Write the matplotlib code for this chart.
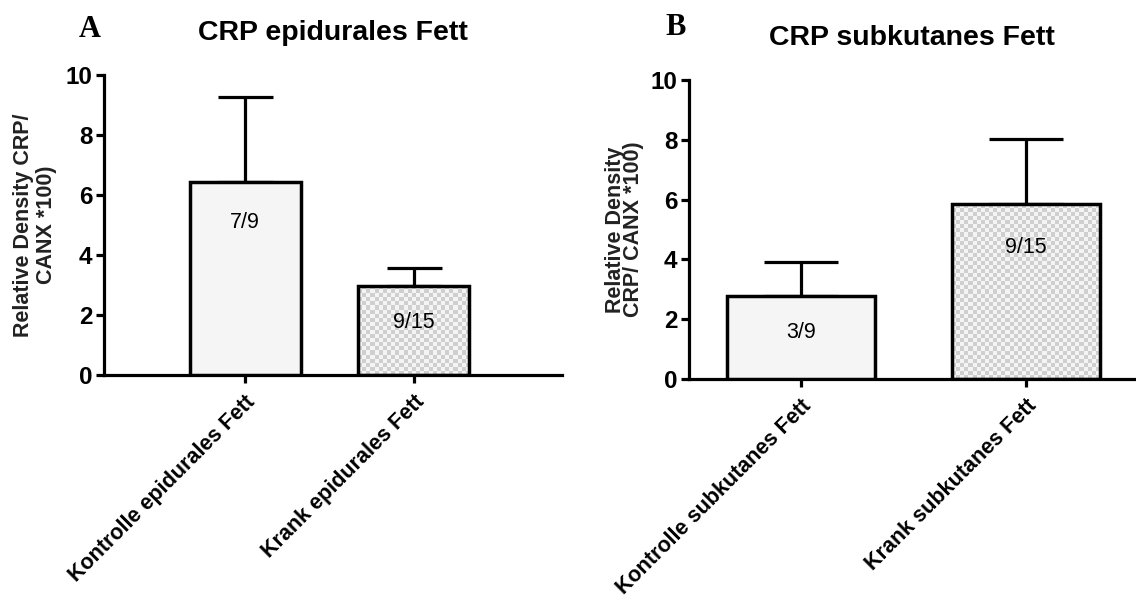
import numpy as np
import matplotlib
matplotlib.use("Agg")
import matplotlib.pyplot as plt
from matplotlib.colors import ListedColormap

plt.rcParams['font.family'] = ['Liberation Sans', 'DejaVu Sans']

# Panel A: epidural fat
cats_a = ["Kontrolle epidurales Fett", "Krank epidurales Fett"]
means_a = [6.45, 2.97]
sem_a = [2.83, 0.6]
counts_a = ["7/9", "9/15"]
count_pos_a = [5.1, 1.75]

# Panel B: subcutaneous fat
cats_b = ["Kontrolle subkutanes Fett", "Krank subkutanes Fett"]
means_b = [2.78, 5.85]
sem_b = [1.13, 2.17]
counts_b = ["3/9", "9/15"]
count_pos_b = [1.55, 4.4]

yticks = [0, 2, 4, 6, 8, 10]


def checker(ax, bar, cell_px=4):
    # checkered fill clipped to the bar outline
    x0, y0 = bar.get_x(), bar.get_y()
    w, h = bar.get_width(), bar.get_height()
    p0 = ax.transData.transform((x0, y0))
    p1 = ax.transData.transform((x0 + w, y0 + h))
    nx = max(1, int(abs(p1[0] - p0[0]) / cell_px))
    ny = max(1, int(abs(p1[1] - p0[1]) / cell_px))
    grid = (np.add.outer(np.arange(ny), np.arange(nx)) % 2).astype(float)
    im = ax.imshow(grid, cmap=ListedColormap(["#f4f4f4", "#cfcfcf"]),
                   extent=(x0, x0 + w, y0, y0 + h), aspect='auto',
                   interpolation='nearest', zorder=2)
    im.set_clip_path(bar)


def panel(ax, cats, means, sem, counts, count_pos, xlim, ylabel, ylinesp,
          ypad, title, letter, letter_y, capsize):
    x = np.arange(len(cats))
    ax.set_xlim(*xlim)
    ax.set_ylim(0, 10)
    ax.errorbar(x, means, yerr=[np.zeros(len(sem)), sem], fmt='none',
                ecolor='black', elinewidth=2.3, capsize=capsize, capthick=2.3, zorder=1)
    bars = ax.bar(x, means, width=0.657, color=['#f5f5f5', 'none'],
                  edgecolor='black', linewidth=2.5, zorder=3)
    checker(ax, bars[1])
    for xi, lab, yp in zip(x, counts, count_pos):
        ax.text(xi, yp, lab, ha='center', va='center', fontsize=15.5, zorder=4)

    ax.set_xticks(x)
    ax.set_xticklabels(cats, rotation=45, ha='right', va='top', rotation_mode='anchor',
                       fontsize=15.5, fontweight='bold')
    ax.set_yticks(yticks)
    ax.set_yticklabels([str(t) for t in yticks], fontsize=17.5, fontweight='bold')
    ax.tick_params(width=2.3, length=6, direction='out', pad=2)
    ax.tick_params(axis='x', pad=6)
    for side in ('top', 'right'):
        ax.spines[side].set_visible(False)
    for side in ('left', 'bottom'):
        ax.spines[side].set_linewidth(2.3)
    ax.set_ylabel(ylabel, fontsize=15.5, fontweight='bold', labelpad=ypad,
                  linespacing=ylinesp, color='#222222')
    ax.set_title(title, fontsize=20.5, fontweight='bold', pad=25)
    ax.text(-0.03, letter_y, letter, transform=ax.transAxes, fontsize=22,
            fontweight='bold', family='Liberation Serif', ha='center', va='center')


fig = plt.figure(figsize=(11.36, 6.01), dpi=100)
ax_a = fig.add_axes([0.0912, 0.376, 0.4035, 0.499])
ax_b = fig.add_axes([0.6062, 0.3694, 0.3938, 0.4975])

panel(ax_a, cats_a, means_a, sem_a, counts_a, count_pos_a, (-0.837, 1.876),
      "Relative Density CRP/\nCANX *100)", 1.15, 6, "CRP epidurales Fett", "A", 1.153, 19.8)
panel(ax_b, cats_b, means_b, sem_b, counts_b, count_pos_b, (-0.5, 1.489),
      "Relative Density\nCRP/ CANX *100)", 0.8, 5, "CRP subkutanes Fett", "B", 1.177, 26.6)

fig.savefig("out.png", dpi=100)
